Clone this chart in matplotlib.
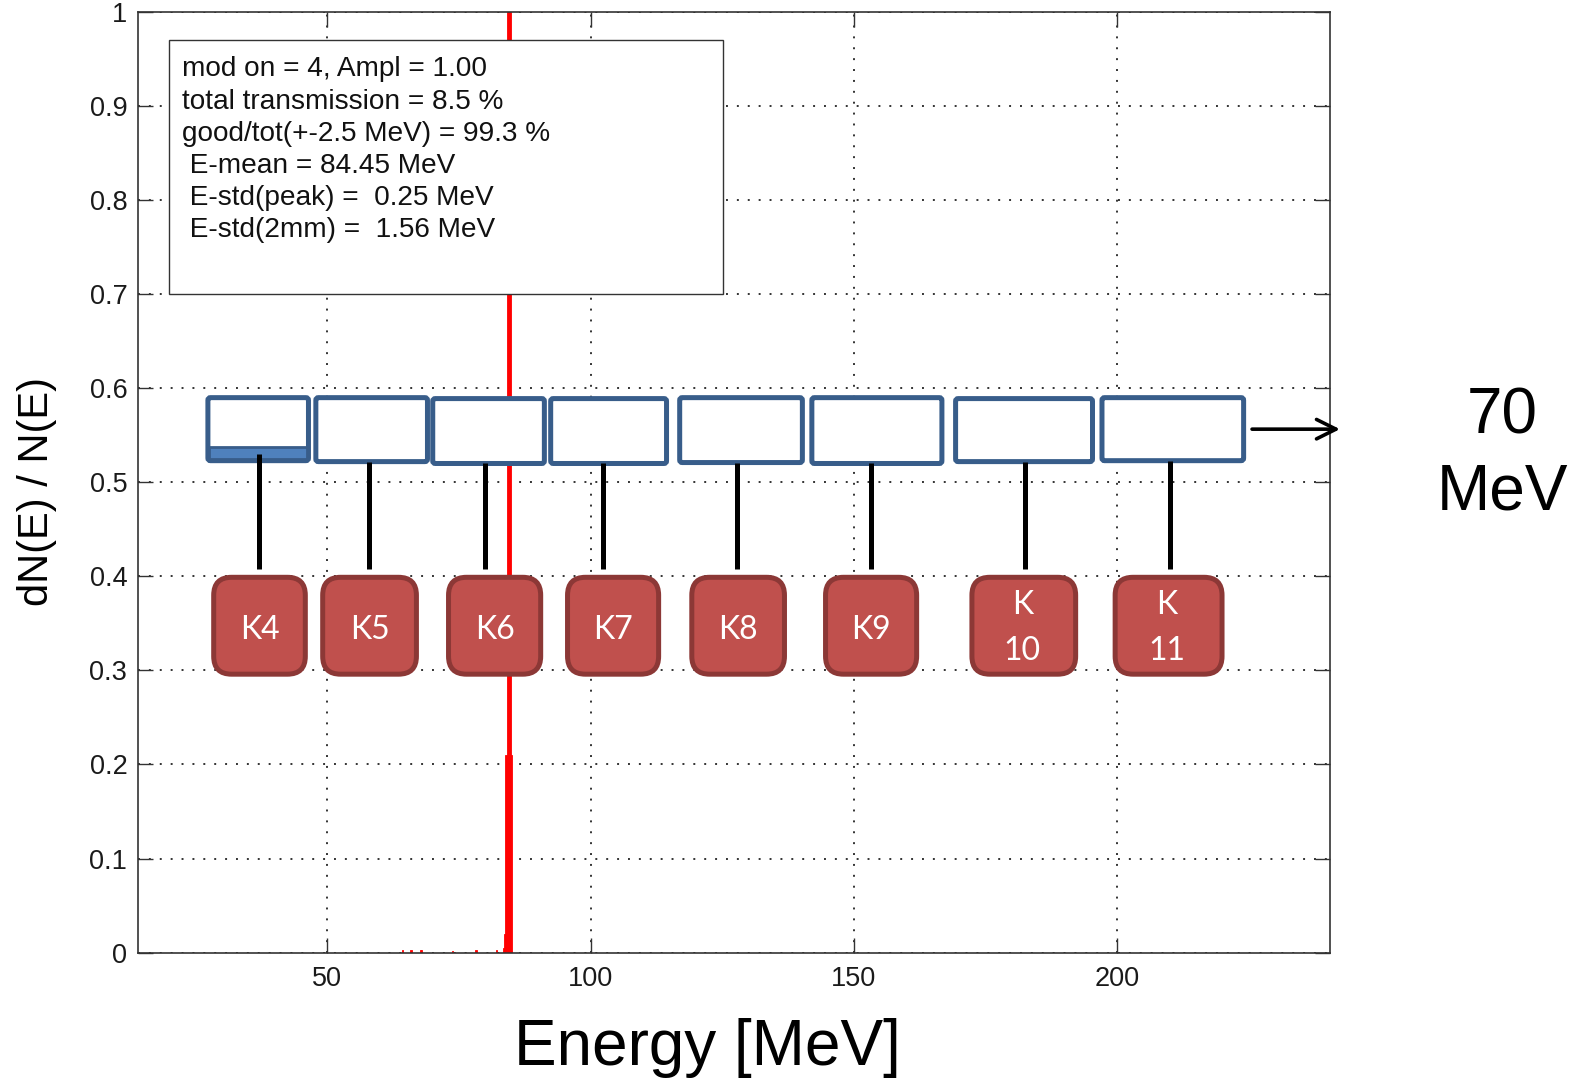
"""Energy spectrum with klystron overlay boxes."""
import matplotlib
matplotlib.use("Agg")
import matplotlib.pyplot as plt
from matplotlib.patches import FancyBboxPatch, Rectangle

plt.rcParams["font.family"] = ["Liberation Sans", "DejaVu Sans"]

# spectrum, MeV / dN/N
energy = [64.3, 65.9, 67.7, 67.9, 73.7, 78.2, 82.1, 83.5, 83.75, 83.9, 84.15, 84.4, 84.65, 84.9]
dn = [0.003, 0.003, 0.003, 0.003, 0.002, 0.003, 0.003, 0.005, 0.02, 0.21, 1.0, 1.0, 1.0, 0.21]

x_ticks = [50, 100, 150, 200]
y_ticks = [0, 0.1, 0.2, 0.3, 0.4, 0.5, 0.6, 0.7, 0.8, 0.9, 1]
y_tick_labels = ["0", "0.1", "0.2", "0.3", "0.4", "0.5", "0.6", "0.7", "0.8", "0.9", "1"]

info_lines = [
    "mod on = 4, Ampl = 1.00",
    "total transmission = 8.5 %",
    "good/tot(+-2.5 MeV) = 99.3 %",
    " E-mean = 84.45 MeV",
    " E-std(peak) =  0.25 MeV",
    " E-std(2mm) =  1.56 MeV",
]

# klystrons
klystrons = ["K4", "K5", "K6", "K7", "K8", "K9", "K\n10", "K\n11"]
blue_left = [27.3, 47.8, 70.0, 92.4, 116.9, 142.0, 169.3, 197.1]
blue_right = [46.4, 69.0, 91.2, 114.4, 140.2, 166.7, 195.3, 224.0]
blue_top = [0.590, 0.590, 0.589, 0.589, 0.590, 0.590, 0.589, 0.590]
blue_bottom = [0.523, 0.522, 0.520, 0.520, 0.521, 0.520, 0.522, 0.523]
red_left = [28.4, 49.1, 73.0, 95.6, 119.2, 144.6, 172.4, 199.6]
red_right = [45.8, 66.9, 90.5, 112.9, 136.8, 161.9, 192.1, 219.9]
red_top = 0.399
red_bottom = 0.296
stem_x = [37.0, 57.8, 79.9, 102.4, 127.8, 153.3, 182.5, 210.1]

XMIN, XMAX = 14.1, 240.5
BLUE = "#385D8A"
RED_FILL = "#C0504D"
RED_EDGE = "#8C3836"

fig = plt.figure(figsize=(15.84, 10.79), dpi=100)
ax = fig.add_axes([138.4 / 1584, 1 - 952.6 / 1079, 1192.1 / 1584, 940.6 / 1079])

ax.bar(energy, dn, width=0.25, color="#FF0000", zorder=2, linewidth=0.6, edgecolor="#FF0000")

ax.set_xlim(XMIN, XMAX)
ax.set_ylim(0, 1)
ax.set_xticks(x_ticks)
ax.set_yticks(y_ticks)
ax.set_yticklabels(y_tick_labels)
ax.tick_params(direction="in", length=10.5, width=1, color="#333333", labelsize=19.5,
               top=True, right=True, pad=8, labelcolor="#1a1a1a")
ax.tick_params(axis="x", pad=10)
ax.grid(True, color="#333333", lw=1.4, linestyle=(0, (1, 4.6)))
ax.set_axisbelow(True)
for s in ax.spines.values():
    s.set_color("#333333")
    s.set_linewidth(1.2)

# 1 MeV vs 1 y unit in pixels, keeps the corners round
aspect = (1192.1 / (XMAX - XMIN)) / 940.6

# stats box
ax.add_patch(Rectangle((19.9, 0.7), 105.3, 0.27, fc="white", ec="#333333", lw=1, zorder=3))
for i, line in enumerate(info_lines):
    ax.text(22.4, 0.939 - i * 0.0342, line, fontsize=20.2, color="#111111", va="center", zorder=4)

# overlay
for i, name in enumerate(klystrons):
    ax.add_patch(FancyBboxPatch(
        (blue_left[i], blue_bottom[i]), blue_right[i] - blue_left[i], blue_top[i] - blue_bottom[i],
        boxstyle="round,pad=0,rounding_size=0.5", mutation_aspect=aspect,
        fc="white", ec=BLUE, lw=3.6, zorder=5,
    ))
    ax.plot([stem_x[i], stem_x[i]], [blue_bottom[i], 0.408], color="black", lw=3.6, zorder=6,
            solid_capstyle="butt")
    ax.add_patch(FancyBboxPatch(
        (red_left[i], red_bottom), red_right[i] - red_left[i], red_top - red_bottom,
        boxstyle="round,pad=0,rounding_size=3.4", mutation_aspect=aspect,
        fc=RED_FILL, ec=RED_EDGE, lw=3.6, zorder=5,
    ))
    two_lines = "\n" in name
    ax.text((red_left[i] + red_right[i]) / 2 - (0.3 if two_lines else 0), 0.345 if two_lines else 0.343,
            name, color="white", fontsize=23, family=["Lato", "DejaVu Sans"],
            ha="center", va="center", zorder=7, linespacing=1.7)

# K4 strip
ax.add_patch(Rectangle((27.6, 0.525), 18.5, 0.012, fc="#4F81BD", ec=BLUE, lw=2, zorder=5.5))
ax.plot([stem_x[0], stem_x[0]], [0.53, 0.52], color="black", lw=3.6, zorder=6, solid_capstyle="butt")

ax.annotate("", xy=(242.3, 0.5565), xytext=(225.6, 0.5565), annotation_clip=False, zorder=7,
            arrowprops=dict(arrowstyle="->,head_length=0.7,head_width=0.35", mutation_scale=20,
                            color="black", lw=2.6, shrinkA=0, shrinkB=0))

fig.text(1502 / 1584, 1 - 416 / 1079, "70", fontsize=46, ha="center", va="center")
fig.text(1502 / 1584, 1 - 492 / 1079, "MeV", fontsize=46, ha="center", va="center")
fig.text(707 / 1584, 1 - 1048 / 1079, "Energy [MeV]", fontsize=46, ha="center", va="center")
fig.text(37 / 1584, 1 - 492 / 1079, "dN(E) / N(E)", fontsize=30, rotation=90, ha="center", va="center")

plt.savefig("out.png", dpi=100)
